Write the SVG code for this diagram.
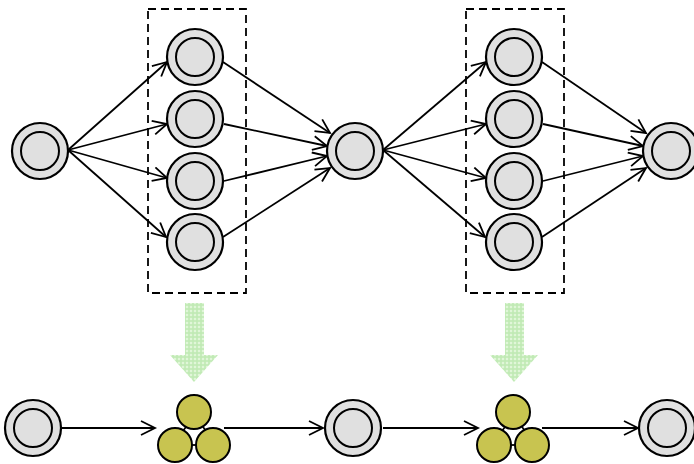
<svg xmlns="http://www.w3.org/2000/svg" width="694" height="464" viewBox="0 0 694 464">
<style>
.o{fill:#e0e0e0;stroke:#000;stroke-width:2.2}
.i{fill:#e0e0e0;stroke:#000;stroke-width:2}
.y{fill:#c8c450;stroke:#000;stroke-width:2}
.c line{stroke:#000;stroke-width:1.8;marker-end:url(#ah)}
.k{stroke:#000;stroke-width:1.8}
.box{fill:none;stroke:#000;stroke-width:1.8;stroke-dasharray:8,5}
.g{fill:url(#chk)}
</style>
<defs>
<marker id="ah" markerUnits="userSpaceOnUse" markerWidth="18" markerHeight="18" refX="15" refY="8" orient="auto">
<path d="M1,1 L15,8 L1,15" fill="none" stroke="#000" stroke-width="1.8"/>
</marker>
<pattern id="chk" width="4" height="4" patternUnits="userSpaceOnUse">
<rect width="4" height="4" fill="#e0f6d8"/>
<rect width="4" height="2" fill="#bfeab4" opacity="0.8"/>
<rect width="2" height="4" fill="#bfeab4" opacity="0.8"/>
</pattern>
</defs>
<rect width="694" height="464" fill="#fff"/>
<rect class="box" x="148" y="9" width="98" height="284"/>
<rect class="box" x="466" y="9" width="98" height="284"/>
<path class="g" d="M185,303 H204 V355 H218 L194,382 L170,355 H185 Z"/>
<path class="g" d="M505,303 H524 V355 H538 L514,382 L490,355 H505 Z"/>
<g id="connectors" class="c">
<line x1="68" y1="150" x2="167" y2="62"/>
<line x1="68" y1="150" x2="167" y2="124"/>
<line x1="68" y1="150" x2="167" y2="178"/>
<line x1="68" y1="150" x2="166" y2="237"/>
<line x1="223" y1="62" x2="330" y2="133"/>
<line x1="224" y1="124" x2="327" y2="146"/>
<line x1="224" y1="181" x2="327" y2="156"/>
<line x1="223" y1="237" x2="330" y2="168"/>
<line x1="383" y1="150" x2="486" y2="62"/>
<line x1="383" y1="150" x2="486" y2="124"/>
<line x1="383" y1="150" x2="486" y2="178"/>
<line x1="383" y1="150" x2="485" y2="237"/>
<line x1="542" y1="62" x2="646" y2="133"/>
<line x1="543" y1="124" x2="643" y2="146"/>
<line x1="543" y1="181" x2="643" y2="156"/>
<line x1="542" y1="237" x2="646" y2="168"/>
<line x1="62" y1="428" x2="155" y2="428"/>
<line x1="224" y1="428" x2="323" y2="428"/>
<line x1="383" y1="428" x2="478" y2="428"/>
<line x1="542" y1="428" x2="638" y2="428"/>
</g>
<g id="n0"><circle class="o" cx="40" cy="151" r="28"/><circle class="i" cx="40" cy="151" r="19"/></g>
<g id="n1"><circle class="o" cx="195" cy="57" r="28"/><circle class="i" cx="195" cy="57" r="19"/></g>
<g id="n2"><circle class="o" cx="195" cy="119" r="28"/><circle class="i" cx="195" cy="119" r="19"/></g>
<g id="n3"><circle class="o" cx="195" cy="181" r="28"/><circle class="i" cx="195" cy="181" r="19"/></g>
<g id="n4"><circle class="o" cx="195" cy="242" r="28"/><circle class="i" cx="195" cy="242" r="19"/></g>
<g id="n5"><circle class="o" cx="355" cy="151" r="28"/><circle class="i" cx="355" cy="151" r="19"/></g>
<g id="n6"><circle class="o" cx="514" cy="57" r="28"/><circle class="i" cx="514" cy="57" r="19"/></g>
<g id="n7"><circle class="o" cx="514" cy="119" r="28"/><circle class="i" cx="514" cy="119" r="19"/></g>
<g id="n8"><circle class="o" cx="514" cy="181" r="28"/><circle class="i" cx="514" cy="181" r="19"/></g>
<g id="n9"><circle class="o" cx="514" cy="242" r="28"/><circle class="i" cx="514" cy="242" r="19"/></g>
<g id="n10"><circle class="o" cx="671" cy="151" r="28"/><circle class="i" cx="671" cy="151" r="19"/></g>
<g id="b0"><circle class="o" cx="33" cy="428" r="28"/><circle class="i" cx="33" cy="428" r="19"/></g>
<g id="b1">
<line class="k" x1="186" y1="427" x2="182" y2="432"/>
<line class="k" x1="203" y1="427" x2="207" y2="432"/>
<line class="k" x1="190" y1="445" x2="198" y2="445"/>
<circle class="y" cx="194" cy="412" r="17"/>
<circle class="y" cx="175" cy="445" r="17"/>
<circle class="y" cx="213" cy="445" r="17"/>
</g>
<g id="b2"><circle class="o" cx="353" cy="428" r="28"/><circle class="i" cx="353" cy="428" r="19"/></g>
<g id="b3">
<line class="k" x1="505" y1="427" x2="501" y2="432"/>
<line class="k" x1="522" y1="427" x2="526" y2="432"/>
<line class="k" x1="509" y1="445" x2="517" y2="445"/>
<circle class="y" cx="513" cy="412" r="17"/>
<circle class="y" cx="494" cy="445" r="17"/>
<circle class="y" cx="532" cy="445" r="17"/>
</g>
<g id="b4"><circle class="o" cx="667" cy="428" r="28"/><circle class="i" cx="667" cy="428" r="19"/></g>
</svg>
